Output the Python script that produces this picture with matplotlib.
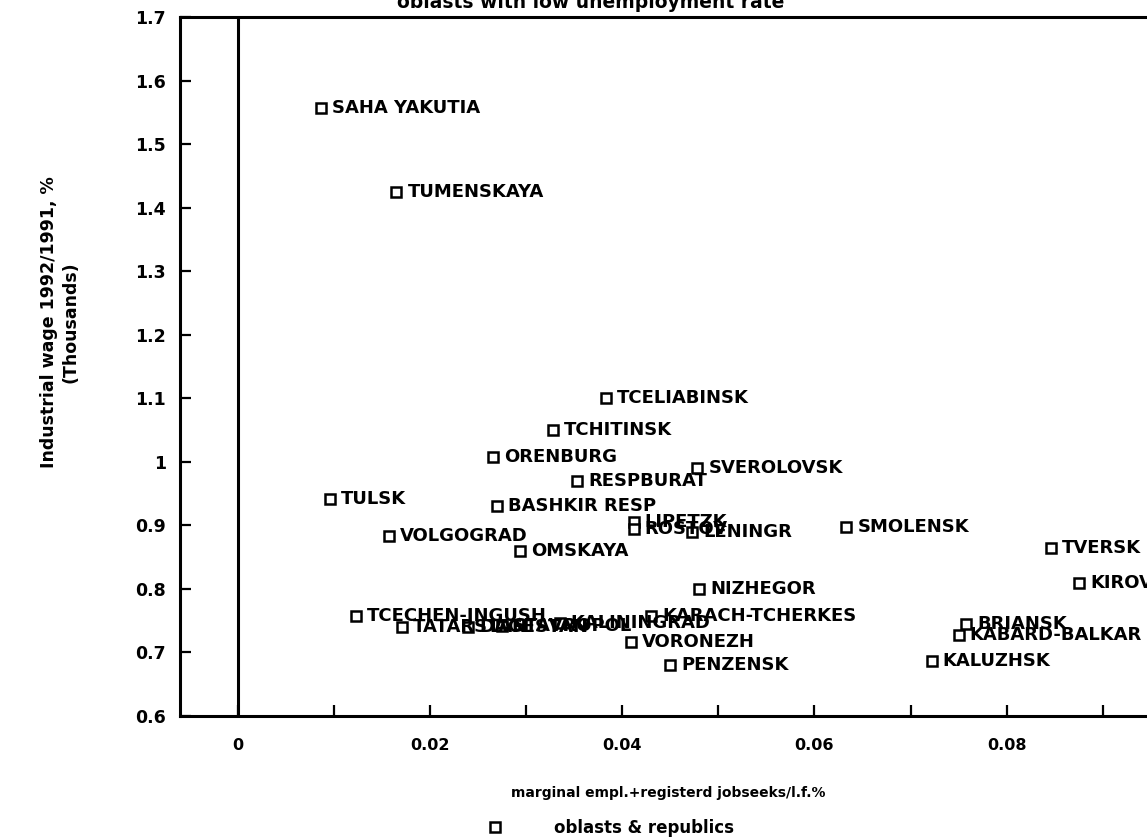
import matplotlib.pyplot as plt
from matplotlib.ticker import MultipleLocator, FuncFormatter
from matplotlib.lines import Line2D

# oblasts & republics: jobseekers share vs industrial wage ratio
regions = ["SAHA YAKUTIA", "TUMENSKAYA", "TCELIABINSK", "TCHITINSK", "ORENBURG",
           "SVEROLOVSK", "RESPBURAT", "TULSK", "BASHKIR RESP", "LIPETZK",
           "ROSTOV", "LENINGR", "SMOLENSK", "TVERSK", "KIROV",
           "BRIANSK", "KABARD-BALKAR", "KALUZHSK", "VOLGOGRAD", "OMSKAYA",
           "NIZHEGOR", "TCECHEN-INGUSH", "TATARSTAN", "DAGESTAN", "STAVROPOL",
           "KALININGRAD", "KARACH-TCHERKES", "VORONEZH", "PENZENSK"]
jobseek = [0.0087, 0.0165, 0.0383, 0.0328, 0.0266,
           0.0478, 0.0353, 0.0096, 0.0270, 0.0412,
           0.0412, 0.0473, 0.0633, 0.0846, 0.0875,
           0.0758, 0.0750, 0.0722, 0.0157, 0.0294,
           0.0480, 0.0123, 0.0171, 0.0240, 0.0275,
           0.0335, 0.0430, 0.0409, 0.0450]
wage = [1.557, 1.425, 1.100, 1.050, 1.007,
        0.990, 0.970, 0.942, 0.930, 0.906,
        0.894, 0.890, 0.897, 0.864, 0.809,
        0.745, 0.728, 0.687, 0.883, 0.860,
        0.800, 0.758, 0.740, 0.740, 0.742,
        0.746, 0.758, 0.716, 0.680]

fig = plt.figure(figsize=(11.47, 8.38), dpi=100)
ax = fig.add_axes([180/1147, 122/838, 1067/1147, 699/838])

ax.plot(jobseek, wage, 's', mfc='white', mec='black', mew=1.8, ms=7, ls='none')
for name, x, y in zip(regions, jobseek, wage):
    ax.annotate(name, (x, y), xytext=(8, 0), textcoords='offset points',
                va='center', ha='left', fontsize=13, fontweight='bold')

ax.axvline(0, color='black', lw=2.2)
ax.set_xlim(-0.006, 0.105)
ax.set_ylim(0.6, 1.7)

ax.yaxis.set_major_locator(MultipleLocator(0.1))
ax.xaxis.set_major_locator(MultipleLocator(0.02))
ax.xaxis.set_minor_locator(MultipleLocator(0.01))
fmt = FuncFormatter(lambda v, p: f'{round(v, 2):g}')
ax.yaxis.set_major_formatter(fmt)
ax.xaxis.set_major_formatter(fmt)

ax.tick_params(which='both', direction='in', length=8, width=1.6, top=False, right=False)
ax.tick_params(axis='y', pad=10, labelsize=12.5)
ax.tick_params(axis='x', pad=16, labelsize=11.5)
for lab in ax.get_xticklabels() + ax.get_yticklabels():
    lab.set_fontweight('bold')
for s in ['left', 'bottom', 'top']:
    ax.spines[s].set_linewidth(2.2)
ax.spines['right'].set_visible(False)

fig.text(0.515, 1 - 8/838, 'oblasts with low unemployment rate', ha='center',
         va='baseline', fontsize=13.5, fontweight='bold')
fig.text(0.583, 1 - 793/838, 'marginal empl.+registerd jobseeks/l.f.%', ha='center',
         va='center', fontsize=10, fontweight='bold')
fig.text(0.052, 1 - 322/838, 'Industrial wage 1992/1991, %\n(Thousands)', rotation=90,
         ha='center', va='center', multialignment='center', fontsize=12.5, fontweight='bold')

handle = Line2D([], [], marker='s', mfc='white', mec='black', mew=1.8, ms=7, ls='none')
fig.legend([handle], ['oblasts & republics'], loc='center', bbox_to_anchor=(0.532, 1 - 828/838),
           frameon=False, handlelength=1, handletextpad=3, prop={'size': 12, 'weight': 'bold'})

fig.savefig('out.png', dpi=100)
